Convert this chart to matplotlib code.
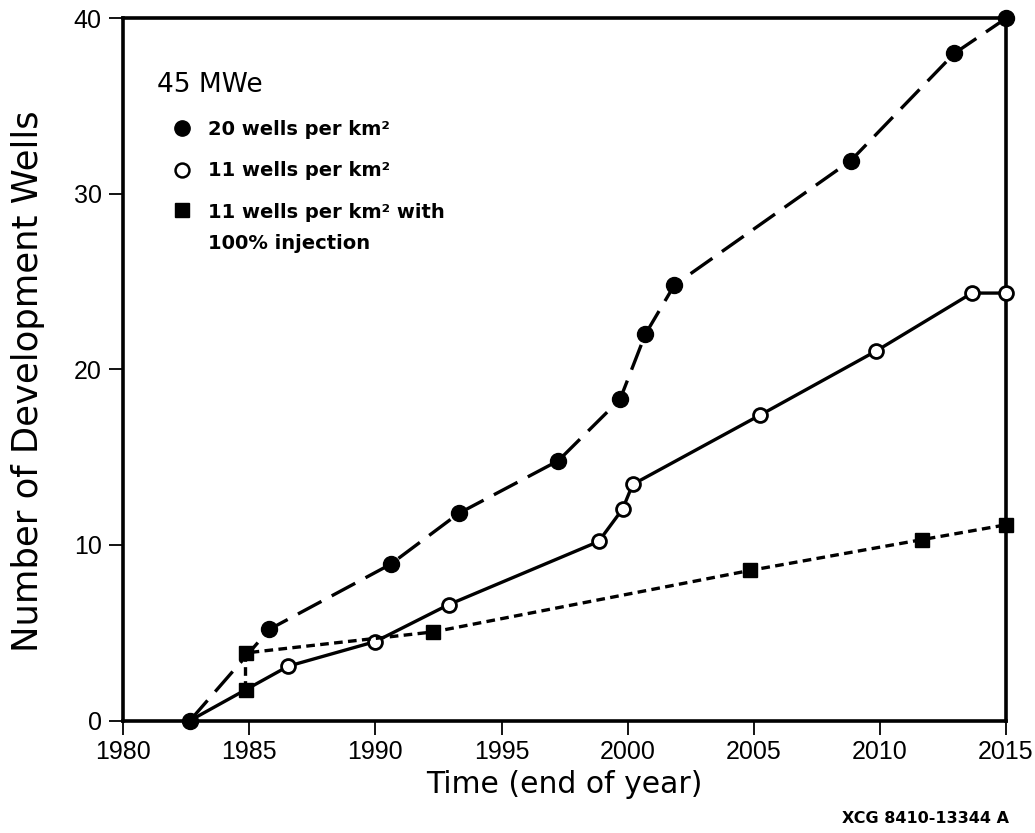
import matplotlib
matplotlib.use('Agg')
import matplotlib.pyplot as plt
from matplotlib.lines import Line2D
from matplotlib.legend_handler import HandlerLine2D

plt.rcParams['font.family'] = ['Liberation Sans', 'DejaVu Sans']

# 20 wells per km2
years_20 = [1982.65, 1985.8, 1990.6, 1993.3, 1997.25, 1999.7, 2000.7, 2001.85, 2008.85, 2012.95, 2015.0]
wells_20 = [0, 5.2, 8.9, 11.8, 14.8, 18.3, 22.0, 24.8, 31.9, 38.0, 40.0]

# 11 wells per km2
years_11 = [1982.65, 1986.55, 1990.0, 1992.9, 1998.85, 1999.8, 2000.2, 2005.25, 2009.85, 2013.65, 2015.0]
wells_11 = [0, 3.1, 4.5, 6.6, 10.2, 12.05, 13.45, 17.4, 21.05, 24.35, 24.35]

# 11 wells per km2 with 100% injection
years_inj = [1984.85, 1984.85, 1992.3, 2004.85, 2011.65, 2015.0]
wells_inj = [1.75, 3.85, 5.05, 8.55, 10.3, 11.15]

x_ticks = [1980, 1985, 1990, 1995, 2000, 2005, 2010, 2015]
y_ticks = [0, 10, 20, 30, 40]

labels = ['20 wells per km\u00b2', '11 wells per km\u00b2', '11 wells per km\u00b2 with\n100% injection']


class RaisedHandler(HandlerLine2D):
    # puts the marker level with the first line of a two-line label
    def __init__(self, up, **kw):
        super().__init__(**kw)
        self.up = up

    def create_artists(self, legend, orig_handle, xdescent, ydescent,
                       width, height, fontsize, trans):
        return super().create_artists(legend, orig_handle, xdescent, ydescent,
                                      width, height + 2 * self.up, fontsize, trans)


fig = plt.figure(figsize=(10.35, 8.33), dpi=100)
ax = fig.add_axes([0.119, 0.135, 0.853, 0.843])

ax.plot(years_11, wells_11, color='black', lw=2.4, marker='o', ms=10,
        mfc='white', mec='black', mew=2, markevery=list(range(1, len(years_11))),
        clip_on=False, zorder=3)
ax.plot(years_inj, wells_inj, color='black', lw=2.4, marker='s', ms=10,
        dashes=(2.6, 1.6), clip_on=False, zorder=4)
ax.plot(years_20, wells_20, color='black', lw=2.4, marker='o', ms=11.5,
        dashes=(8, 3.5), clip_on=False, zorder=5)

ax.set_xlim(1980, 2015)
ax.set_ylim(0, 40)
ax.set_xticks(x_ticks)
ax.set_yticks(y_ticks)
ax.tick_params(direction='out', length=10, width=1.3, labelsize=18)
ax.tick_params(axis='x', pad=4)
ax.tick_params(axis='y', pad=5.5)
for s in ax.spines.values():
    s.set_linewidth(2.6)

ax.set_xlabel('Time (end of year)', fontsize=21.5, family='DejaVu Sans', labelpad=4)
ax.set_ylabel('Number of Development Wells', fontsize=25.5, family='DejaVu Sans')
ax.yaxis.set_label_coords(-0.088, 0.483)

h_full = Line2D([], [], ls='none', marker='o', color='black', ms=11)
h_open = Line2D([], [], ls='none', marker='o', mfc='white', mec='black', mew=1.8, ms=10)
h_sq = Line2D([], [], ls='none', marker='s', color='black', ms=10)
leg = ax.legend([h_full, h_open, h_sq], labels, title='45 MWe', loc='upper left',
                bbox_to_anchor=(0.018, 0.949), frameon=False, handlelength=2.6,
                handletextpad=0.05, labelspacing=1.15,
                prop={'family': 'DejaVu Sans', 'size': 14, 'weight': 'bold'},
                title_fontproperties={'family': 'DejaVu Sans', 'size': 19},
                alignment='left', handler_map={h_sq: RaisedHandler(13)})
for t in leg.get_texts():
    t.set_linespacing(1.8)

fig.text(0.975, 0.018, 'XCG 8410-13344 A', ha='right', va='center',
         fontsize=11.5, fontweight='bold', family='DejaVu Sans')

fig.savefig('out.png', dpi=100)
